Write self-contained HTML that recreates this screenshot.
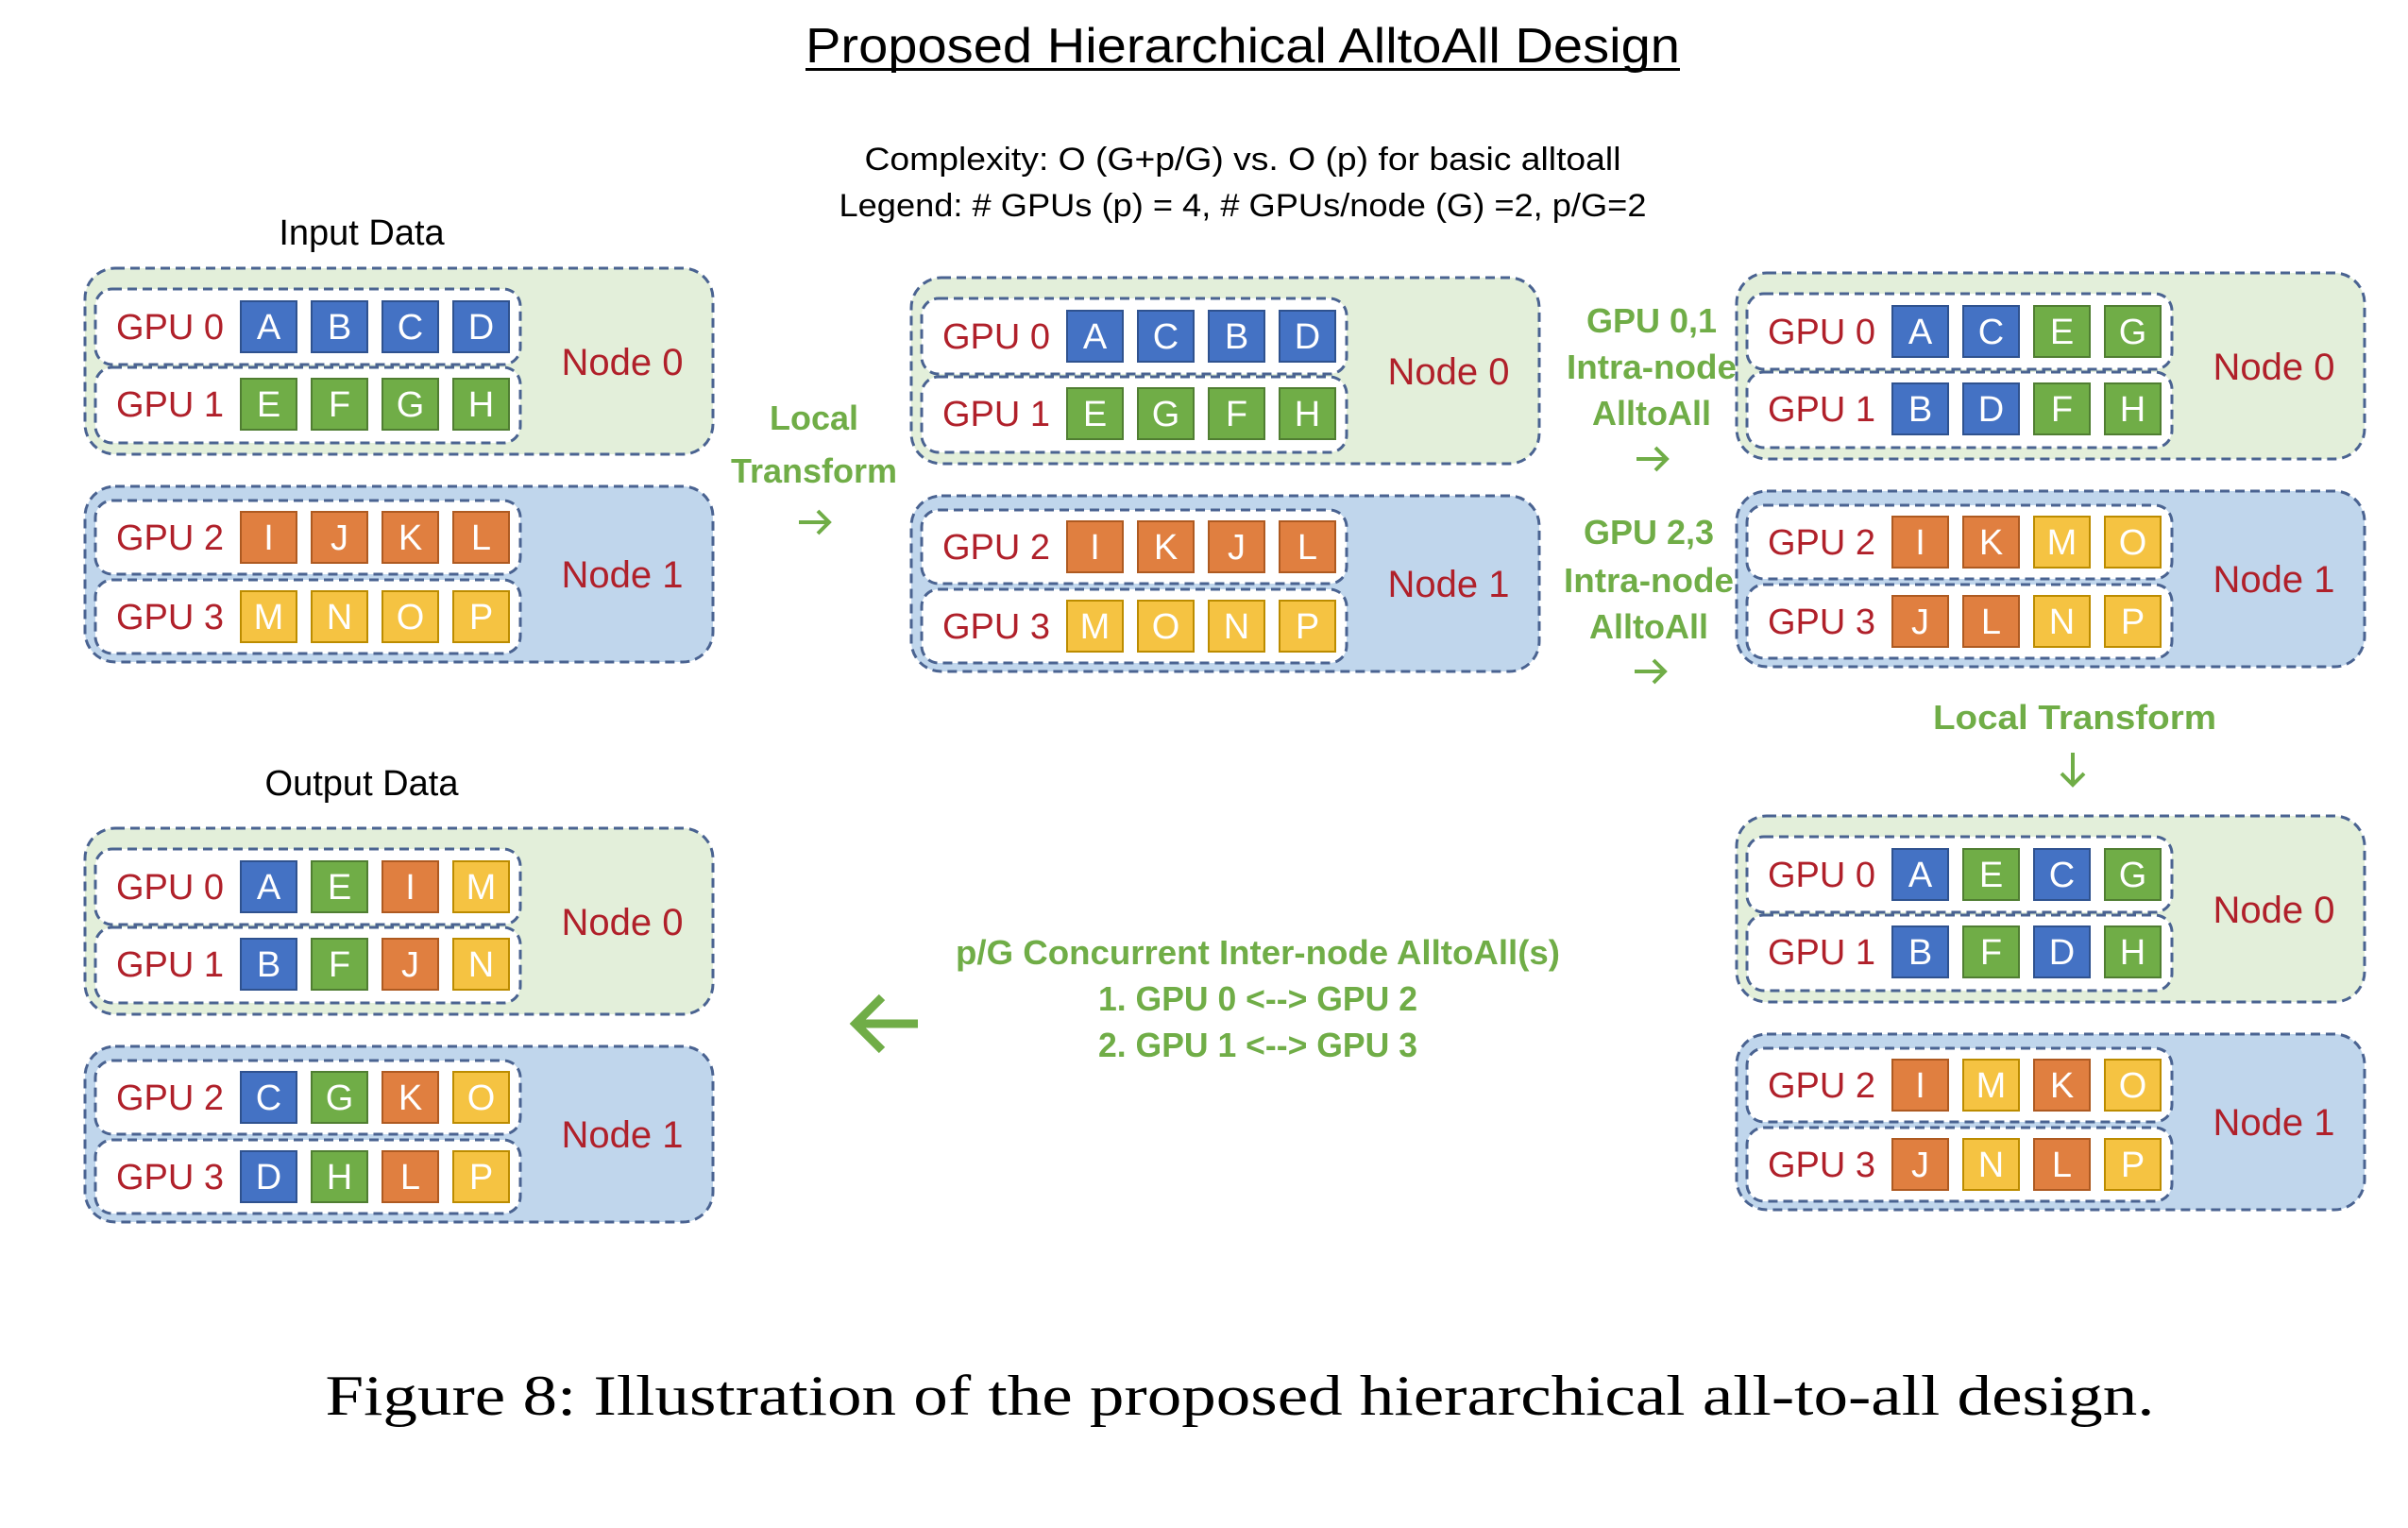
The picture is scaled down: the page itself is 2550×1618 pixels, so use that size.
<!DOCTYPE html>
<html><head><meta charset="utf-8"><style>
html,body{margin:0;padding:0;background:#fff;}
svg{display:block;}
text{font-family:"Liberation Sans",sans-serif;}
.n0{fill:#E3EFDA;stroke:#4A6391;stroke-width:3;stroke-dasharray:10 6;}
.n1{fill:#C0D6EC;stroke:#4A6391;stroke-width:3;stroke-dasharray:10 6;}
.rw{fill:#fff;stroke:#4A6391;stroke-width:3;stroke-dasharray:10 6;}
.b{fill:#4472C4;stroke:#2F528F;stroke-width:2}
.g{fill:#70AD47;stroke:#507E32;stroke-width:2}
.o{fill:#E07F40;stroke:#AE5A21;stroke-width:2}
.y{fill:#F5C342;stroke:#BC8C00;stroke-width:2}
.l{fill:#fff;font-size:38px;text-anchor:middle}
.gp{fill:#B0202A;font-size:38px;text-anchor:middle}
.nd{fill:#B0202A;font-size:40px;text-anchor:middle}
.gr{fill:#70AD47;font-size:36px;font-weight:bold;text-anchor:middle}
</style></head><body>
<svg width="2550" height="1618" viewBox="0 0 2550 1618" xmlns="http://www.w3.org/2000/svg">
<defs>
<g id="frame">
<rect class="n0" x="90" y="284" width="665" height="197" rx="32"/>
<rect class="rw" x="101" y="306" width="450" height="80" rx="18"/>
<rect class="rw" x="101" y="389" width="450" height="80" rx="18"/>
<rect class="n1" x="90" y="515" width="665" height="186" rx="32"/>
<rect class="rw" x="101" y="530" width="450" height="78" rx="18"/>
<rect class="rw" x="101" y="614" width="450" height="78" rx="18"/>
<text class="gp" x="180" y="359">GPU 0</text>
<text class="gp" x="180" y="441">GPU 1</text>
<text class="gp" x="180" y="582">GPU 2</text>
<text class="gp" x="180" y="666">GPU 3</text>
<text class="nd" x="659" y="397">Node 0</text>
<text class="nd" x="659" y="622">Node 1</text>
</g>
</defs>

<text x="1316" y="66" font-size="52" text-anchor="middle" textLength="926" lengthAdjust="spacingAndGlyphs">Proposed Hierarchical AlltoAll Design</text>
<rect x="853" y="72" width="926" height="3" fill="#000"/>
<text x="1316" y="180" font-size="34" text-anchor="middle" textLength="801" lengthAdjust="spacingAndGlyphs">Complexity: O (G+p/G) vs. O (p) for basic alltoall</text>
<text x="1316" y="229" font-size="34" text-anchor="middle" textLength="855" lengthAdjust="spacingAndGlyphs">Legend: # GPUs (p) = 4, # GPUs/node (G) =2, p/G=2</text>
<text x="383" y="259" font-size="38" text-anchor="middle">Input Data</text>
<text x="383" y="842" font-size="38" text-anchor="middle">Output Data</text>

<!-- Panel A -->
<g>
<use href="#frame"/>
<g transform="translate(0,346)"><rect class="b" x="255" y="-27" width="59" height="54"/><text class="l" x="284.5" y="13">A</text><rect class="b" x="330" y="-27" width="59" height="54"/><text class="l" x="359.5" y="13">B</text><rect class="b" x="405" y="-27" width="59" height="54"/><text class="l" x="434.5" y="13">C</text><rect class="b" x="480" y="-27" width="59" height="54"/><text class="l" x="509.5" y="13">D</text></g>
<g transform="translate(0,428)"><rect class="g" x="255" y="-27" width="59" height="54"/><text class="l" x="284.5" y="13">E</text><rect class="g" x="330" y="-27" width="59" height="54"/><text class="l" x="359.5" y="13">F</text><rect class="g" x="405" y="-27" width="59" height="54"/><text class="l" x="434.5" y="13">G</text><rect class="g" x="480" y="-27" width="59" height="54"/><text class="l" x="509.5" y="13">H</text></g>
<g transform="translate(0,569)"><rect class="o" x="255" y="-27" width="59" height="54"/><text class="l" x="284.5" y="13">I</text><rect class="o" x="330" y="-27" width="59" height="54"/><text class="l" x="359.5" y="13">J</text><rect class="o" x="405" y="-27" width="59" height="54"/><text class="l" x="434.5" y="13">K</text><rect class="o" x="480" y="-27" width="59" height="54"/><text class="l" x="509.5" y="13">L</text></g>
<g transform="translate(0,653)"><rect class="y" x="255" y="-27" width="59" height="54"/><text class="l" x="284.5" y="13">M</text><rect class="y" x="330" y="-27" width="59" height="54"/><text class="l" x="359.5" y="13">N</text><rect class="y" x="405" y="-27" width="59" height="54"/><text class="l" x="434.5" y="13">O</text><rect class="y" x="480" y="-27" width="59" height="54"/><text class="l" x="509.5" y="13">P</text></g>
</g>

<!-- Panel B -->
<g transform="translate(875,10)">
<use href="#frame"/>
<g transform="translate(0,346)"><rect class="b" x="255" y="-27" width="59" height="54"/><text class="l" x="284.5" y="13">A</text><rect class="b" x="330" y="-27" width="59" height="54"/><text class="l" x="359.5" y="13">C</text><rect class="b" x="405" y="-27" width="59" height="54"/><text class="l" x="434.5" y="13">B</text><rect class="b" x="480" y="-27" width="59" height="54"/><text class="l" x="509.5" y="13">D</text></g>
<g transform="translate(0,428)"><rect class="g" x="255" y="-27" width="59" height="54"/><text class="l" x="284.5" y="13">E</text><rect class="g" x="330" y="-27" width="59" height="54"/><text class="l" x="359.5" y="13">G</text><rect class="g" x="405" y="-27" width="59" height="54"/><text class="l" x="434.5" y="13">F</text><rect class="g" x="480" y="-27" width="59" height="54"/><text class="l" x="509.5" y="13">H</text></g>
<g transform="translate(0,569)"><rect class="o" x="255" y="-27" width="59" height="54"/><text class="l" x="284.5" y="13">I</text><rect class="o" x="330" y="-27" width="59" height="54"/><text class="l" x="359.5" y="13">K</text><rect class="o" x="405" y="-27" width="59" height="54"/><text class="l" x="434.5" y="13">J</text><rect class="o" x="480" y="-27" width="59" height="54"/><text class="l" x="509.5" y="13">L</text></g>
<g transform="translate(0,653)"><rect class="y" x="255" y="-27" width="59" height="54"/><text class="l" x="284.5" y="13">M</text><rect class="y" x="330" y="-27" width="59" height="54"/><text class="l" x="359.5" y="13">O</text><rect class="y" x="405" y="-27" width="59" height="54"/><text class="l" x="434.5" y="13">N</text><rect class="y" x="480" y="-27" width="59" height="54"/><text class="l" x="509.5" y="13">P</text></g>
</g>

<!-- Panel C -->
<g transform="translate(1749,5)">
<use href="#frame"/>
<g transform="translate(0,346)"><rect class="b" x="255" y="-27" width="59" height="54"/><text class="l" x="284.5" y="13">A</text><rect class="b" x="330" y="-27" width="59" height="54"/><text class="l" x="359.5" y="13">C</text><rect class="g" x="405" y="-27" width="59" height="54"/><text class="l" x="434.5" y="13">E</text><rect class="g" x="480" y="-27" width="59" height="54"/><text class="l" x="509.5" y="13">G</text></g>
<g transform="translate(0,428)"><rect class="b" x="255" y="-27" width="59" height="54"/><text class="l" x="284.5" y="13">B</text><rect class="b" x="330" y="-27" width="59" height="54"/><text class="l" x="359.5" y="13">D</text><rect class="g" x="405" y="-27" width="59" height="54"/><text class="l" x="434.5" y="13">F</text><rect class="g" x="480" y="-27" width="59" height="54"/><text class="l" x="509.5" y="13">H</text></g>
<g transform="translate(0,569)"><rect class="o" x="255" y="-27" width="59" height="54"/><text class="l" x="284.5" y="13">I</text><rect class="o" x="330" y="-27" width="59" height="54"/><text class="l" x="359.5" y="13">K</text><rect class="y" x="405" y="-27" width="59" height="54"/><text class="l" x="434.5" y="13">M</text><rect class="y" x="480" y="-27" width="59" height="54"/><text class="l" x="509.5" y="13">O</text></g>
<g transform="translate(0,653)"><rect class="o" x="255" y="-27" width="59" height="54"/><text class="l" x="284.5" y="13">J</text><rect class="o" x="330" y="-27" width="59" height="54"/><text class="l" x="359.5" y="13">L</text><rect class="y" x="405" y="-27" width="59" height="54"/><text class="l" x="434.5" y="13">N</text><rect class="y" x="480" y="-27" width="59" height="54"/><text class="l" x="509.5" y="13">P</text></g>
</g>

<!-- Panel D -->
<g transform="translate(1749,580)">
<use href="#frame"/>
<g transform="translate(0,346)"><rect class="b" x="255" y="-27" width="59" height="54"/><text class="l" x="284.5" y="13">A</text><rect class="g" x="330" y="-27" width="59" height="54"/><text class="l" x="359.5" y="13">E</text><rect class="b" x="405" y="-27" width="59" height="54"/><text class="l" x="434.5" y="13">C</text><rect class="g" x="480" y="-27" width="59" height="54"/><text class="l" x="509.5" y="13">G</text></g>
<g transform="translate(0,428)"><rect class="b" x="255" y="-27" width="59" height="54"/><text class="l" x="284.5" y="13">B</text><rect class="g" x="330" y="-27" width="59" height="54"/><text class="l" x="359.5" y="13">F</text><rect class="b" x="405" y="-27" width="59" height="54"/><text class="l" x="434.5" y="13">D</text><rect class="g" x="480" y="-27" width="59" height="54"/><text class="l" x="509.5" y="13">H</text></g>
<g transform="translate(0,569)"><rect class="o" x="255" y="-27" width="59" height="54"/><text class="l" x="284.5" y="13">I</text><rect class="y" x="330" y="-27" width="59" height="54"/><text class="l" x="359.5" y="13">M</text><rect class="o" x="405" y="-27" width="59" height="54"/><text class="l" x="434.5" y="13">K</text><rect class="y" x="480" y="-27" width="59" height="54"/><text class="l" x="509.5" y="13">O</text></g>
<g transform="translate(0,653)"><rect class="o" x="255" y="-27" width="59" height="54"/><text class="l" x="284.5" y="13">J</text><rect class="y" x="330" y="-27" width="59" height="54"/><text class="l" x="359.5" y="13">N</text><rect class="o" x="405" y="-27" width="59" height="54"/><text class="l" x="434.5" y="13">L</text><rect class="y" x="480" y="-27" width="59" height="54"/><text class="l" x="509.5" y="13">P</text></g>
</g>

<!-- Panel E -->
<g transform="translate(0,593)">
<use href="#frame"/>
<g transform="translate(0,346)"><rect class="b" x="255" y="-27" width="59" height="54"/><text class="l" x="284.5" y="13">A</text><rect class="g" x="330" y="-27" width="59" height="54"/><text class="l" x="359.5" y="13">E</text><rect class="o" x="405" y="-27" width="59" height="54"/><text class="l" x="434.5" y="13">I</text><rect class="y" x="480" y="-27" width="59" height="54"/><text class="l" x="509.5" y="13">M</text></g>
<g transform="translate(0,428)"><rect class="b" x="255" y="-27" width="59" height="54"/><text class="l" x="284.5" y="13">B</text><rect class="g" x="330" y="-27" width="59" height="54"/><text class="l" x="359.5" y="13">F</text><rect class="o" x="405" y="-27" width="59" height="54"/><text class="l" x="434.5" y="13">J</text><rect class="y" x="480" y="-27" width="59" height="54"/><text class="l" x="509.5" y="13">N</text></g>
<g transform="translate(0,569)"><rect class="b" x="255" y="-27" width="59" height="54"/><text class="l" x="284.5" y="13">C</text><rect class="g" x="330" y="-27" width="59" height="54"/><text class="l" x="359.5" y="13">G</text><rect class="o" x="405" y="-27" width="59" height="54"/><text class="l" x="434.5" y="13">K</text><rect class="y" x="480" y="-27" width="59" height="54"/><text class="l" x="509.5" y="13">O</text></g>
<g transform="translate(0,653)"><rect class="b" x="255" y="-27" width="59" height="54"/><text class="l" x="284.5" y="13">D</text><rect class="g" x="330" y="-27" width="59" height="54"/><text class="l" x="359.5" y="13">H</text><rect class="o" x="405" y="-27" width="59" height="54"/><text class="l" x="434.5" y="13">L</text><rect class="y" x="480" y="-27" width="59" height="54"/><text class="l" x="509.5" y="13">P</text></g>
</g>

<!-- Labels & arrows -->
<g fill="none" stroke="#70AD47" stroke-width="4">
<path d="M846 553h32M866 541l12 12-12 12"/>
<path d="M1733 486h32M1753 474l12 12-12 12"/>
<path d="M1731 711h32M1751 699l12 12-12 12"/>
<path d="M2195 797v34M2183 819l12 12 12-12"/>
<path stroke-width="9" d="M972 1084h-62M934 1056l-28 28 28 28"/>
</g>
<text class="gr" x="862" y="455">Local</text>
<text class="gr" x="862" y="511">Transform</text>
<text class="gr" x="1749" y="352">GPU 0,1</text>
<text class="gr" x="1749" y="401" textLength="180" lengthAdjust="spacingAndGlyphs">Intra-node</text>
<text class="gr" x="1749" y="450">AlltoAll</text>
<text class="gr" x="1746" y="576">GPU 2,3</text>
<text class="gr" x="1746" y="627" textLength="180" lengthAdjust="spacingAndGlyphs">Intra-node</text>
<text class="gr" x="1746" y="676">AlltoAll</text>
<text class="gr" x="2197" y="772" textLength="300" lengthAdjust="spacingAndGlyphs">Local Transform</text>
<text class="gr" x="1332" y="1021" textLength="640" lengthAdjust="spacingAndGlyphs">p/G Concurrent Inter-node AlltoAll(s)</text>
<text class="gr" x="1332" y="1070" textLength="338" lengthAdjust="spacingAndGlyphs">1. GPU 0 &lt;--&gt; GPU 2</text>
<text class="gr" x="1332" y="1119" textLength="338" lengthAdjust="spacingAndGlyphs">2. GPU 1 &lt;--&gt; GPU 3</text>

<text x="1313" y="1498" style="font-family:'Liberation Serif',serif" font-size="60" text-anchor="middle" textLength="1937" lengthAdjust="spacingAndGlyphs">Figure 8: Illustration of the proposed hierarchical all-to-all design.</text>
</svg>
</body></html>
